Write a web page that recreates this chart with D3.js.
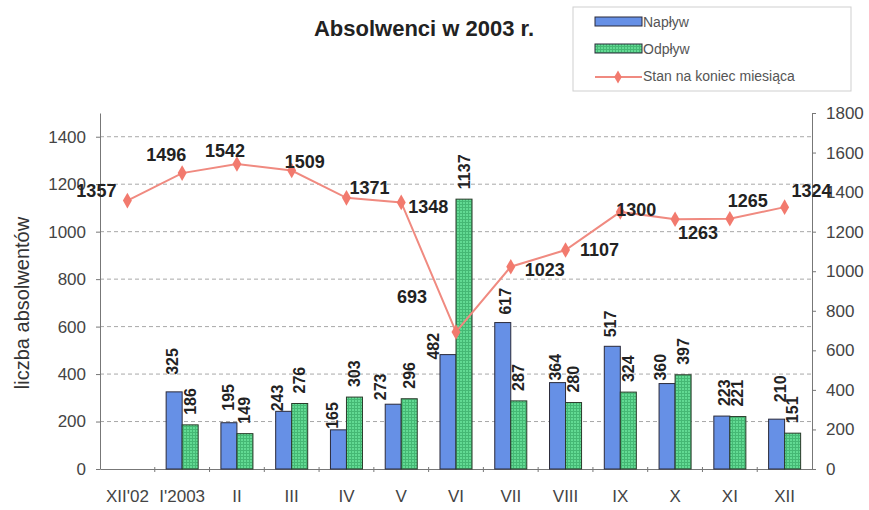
<!DOCTYPE html>
<html>
<head>
<meta charset="utf-8">
<script src="https://cdn.jsdelivr.net/npm/d3@7"></script>
<style>
  body { margin: 0; background: #fff; }
  svg { display: block; font-family: 'Liberation Sans', Arial, sans-serif; }
</style>
</head>
<body>
<script>
// data
const months = ["XII'02", "I'2003", 'II', 'III', 'IV', 'V', 'VI', 'VII', 'VIII', 'IX', 'X', 'XI', 'XII']
const naplyw = [null, 325, 195, 243, 165, 273, 482, 617, 364, 517, 360, 223, 210]
const odplyw = [null, 186, 149, 276, 303, 296, 1137, 287, 280, 324, 397, 221, 151]
const stan = [1357, 1496, 1542, 1509, 1371, 1348, 693, 1023, 1107, 1300, 1263, 1265, 1324]
const leftTicks = [0, 200, 400, 600, 800, 1000, 1200, 1400]
const rightTicks = [0, 200, 400, 600, 800, 1000, 1200, 1400, 1600, 1800]

// label placement (hand positioned in the original)
const stanLabelOffset = [[-31, -10], [-16, -18], [-12, -13], [13, -9], [23, -10], [27, 5], [-44, -35],
  [34, 3], [34, 0], [16, -2], [23, 14], [18, -18], [27, -16]]
const napLabelNudge = [[0, 0], [-2, -7], [0, -2], [-6, 10], [-6, 9], [-13, 6], [-14, 15],
  [3, 2], [-2, 8], [-2, 1], [-7, 7], [3, 0], [4, -7]]

const W = 869, H = 510
const plot = { left: 100, right: 812, top: 113, bottom: 469 }

const svg = d3.select('body').append('svg')
  .attr('width', W)
  .attr('height', H)

const defs = svg.append('defs')
const pat = defs.append('pattern')
  .attr('id', 'greenGrid')
  .attr('width', 3).attr('height', 3)
  .attr('patternUnits', 'userSpaceOnUse')
pat.append('rect').attr('width', 3).attr('height', 3).attr('fill', '#62da93')
pat.append('path').attr('d', 'M0,0.5H3M0.5,0V3').attr('stroke', '#45b874').attr('stroke-width', 1)

const x = d3.scaleBand().domain(months).range([plot.left, plot.right]).padding(0)
const x1 = d3.scaleBand().domain(['nap', 'odp']).range([0, x.bandwidth()])
  .paddingInner(0).paddingOuter(0.71)
const yL = d3.scaleLinear().domain([0, 1500]).range([plot.bottom, plot.top])
const yR = d3.scaleLinear().domain([0, 1800]).range([plot.bottom, plot.top])

// gridlines
svg.append('g').selectAll('line')
  .data(leftTicks.filter(d => d > 0))
  .join('line')
  .attr('x1', plot.left).attr('x2', plot.right)
  .attr('y1', d => yL(d)).attr('y2', d => yL(d))
  .attr('stroke', '#a8a8a8')
  .attr('stroke-dasharray', '4,3')

// axes
const styleAxis = g => {
  g.select('.domain').attr('stroke', '#777')
  g.selectAll('.tick line').attr('stroke', '#777')
  g.selectAll('.tick text').attr('fill', '#444').style('font-size', '17px')
    .style('font-family', "'Liberation Sans', Arial, sans-serif")
}

svg.append('g')
  .attr('transform', `translate(${plot.left},0)`)
  .call(d3.axisLeft(yL).tickValues(leftTicks).tickFormat(d3.format('d'))
    .tickSize(4).tickPadding(10).tickSizeOuter(0))
  .call(styleAxis)

svg.append('g')
  .attr('transform', `translate(${plot.right},0)`)
  .call(d3.axisRight(yR).tickValues(rightTicks).tickFormat(d3.format('d'))
    .tickSize(4).tickPadding(10).tickSizeOuter(0))
  .call(styleAxis)

const xAxis = svg.append('g')
  .attr('transform', `translate(0,${plot.bottom})`)
  .call(d3.axisBottom(x).tickSize(0).tickPadding(21))
  .call(styleAxis)
// small ticks between categories
xAxis.selectAll('.sep')
  .data(months.slice(1))
  .join('line')
  .attr('x1', d => x(d)).attr('x2', d => x(d))
  .attr('y1', -2).attr('y2', 3)
  .attr('stroke', '#777')

// bars
const bars = svg.append('g')
bars.selectAll('.nap')
  .data(months.map((m, i) => ({ m, v: naplyw[i], i })).filter(d => d.v != null))
  .join('rect')
  .attr('x', d => x(d.m) + x1('nap'))
  .attr('y', d => yL(d.v))
  .attr('width', x1.bandwidth())
  .attr('height', d => yL(0) - yL(d.v))
  .attr('fill', '#6690e6')
  .attr('stroke', '#2a2a3a')
  .attr('stroke-width', 1)

bars.selectAll('.odp')
  .data(months.map((m, i) => ({ m, v: odplyw[i], i })).filter(d => d.v != null))
  .join('rect')
  .attr('x', d => x(d.m) + x1('odp'))
  .attr('y', d => yL(d.v))
  .attr('width', x1.bandwidth())
  .attr('height', d => yL(0) - yL(d.v))
  .attr('fill', 'url(#greenGrid)')
  .attr('stroke', '#2a3a2a')
  .attr('stroke-width', 1)

// bar value labels, vertical
const barLabel = (key, values, nudge) => {
  svg.append('g').selectAll('text')
    .data(months.map((m, i) => ({ m, v: values[i], i })).filter(d => d.v != null))
    .join('text')
    .attr('transform', d => {
      const n = nudge ? nudge[d.i] : [0, 0]
      const cx = x(d.m) + x1(key) + x1.bandwidth() / 2 + n[0]
      const cy = yL(d.v) - 10 + n[1]
      return `translate(${cx},${cy}) rotate(-90)`
    })
    .attr('dominant-baseline', 'central')
    .attr('text-anchor', 'start')
    .style('font-size', '16px')
    .style('font-weight', 'bold')
    .attr('fill', '#222')
    .text(d => d.v)
}
barLabel('nap', naplyw, napLabelNudge)
barLabel('odp', odplyw, null)

// line
const cx = (d, i) => x(months[i]) + x.bandwidth() / 2
const line = d3.line().x(cx).y(d => yR(d))
svg.append('path')
  .datum(stan)
  .attr('d', line)
  .attr('fill', 'none')
  .attr('stroke', '#f08a80')
  .attr('stroke-width', 2)

svg.append('g').selectAll('path')
  .data(stan)
  .join('path')
  .attr('transform', (d, i) => `translate(${cx(d, i)},${yR(d)})`)
  .attr('d', d3.symbol(d3.symbolDiamond, 70))
  .attr('fill', '#f27a6e')

svg.append('g').selectAll('text')
  .data(stan)
  .join('text')
  .attr('x', (d, i) => cx(d, i) + stanLabelOffset[i][0])
  .attr('y', (d, i) => yR(d) + stanLabelOffset[i][1])
  .attr('text-anchor', 'middle')
  .attr('dominant-baseline', 'central')
  .style('font-size', '18px')
  .style('font-weight', 'bold')
  .attr('fill', '#222')
  .text(d => d)

// y title
svg.append('text')
  .attr('transform', `translate(22,${(plot.top + plot.bottom) / 2 + 12}) rotate(-90)`)
  .attr('text-anchor', 'middle')
  .attr('dominant-baseline', 'central')
  .style('font-size', '20px')
  .attr('fill', '#333')
  .text('liczba absolwentów')

// title
svg.append('text')
  .attr('x', 424).attr('y', 28)
  .attr('text-anchor', 'middle')
  .attr('dominant-baseline', 'central')
  .style('font-size', '22px')
  .style('font-weight', 'bold')
  .attr('fill', '#222')
  .text('Absolwenci w 2003 r.')

// legend
const legend = svg.append('g').attr('transform', 'translate(573,7)')
legend.append('rect')
  .attr('width', 278).attr('height', 84)
  .attr('fill', '#fff')
  .attr('stroke', '#cfcfcf')
const items = [
  { name: 'Napływ', type: 'bar', fill: '#6690e6' },
  { name: 'Odpływ', type: 'bar', fill: 'url(#greenGrid)' },
  { name: 'Stan na koniec miesiąca', type: 'line' }
]
items.forEach((it, i) => {
  const yy = 14 + i * 27
  if (it.type === 'bar') {
    legend.append('rect')
      .attr('x', 22).attr('y', yy - 4)
      .attr('width', 47).attr('height', 9)
      .attr('fill', it.fill)
      .attr('stroke', '#2a2a3a')
  } else {
    legend.append('line')
      .attr('x1', 22).attr('x2', 69)
      .attr('y1', yy + 2).attr('y2', yy + 2)
      .attr('stroke', '#f08a80').attr('stroke-width', 2)
    legend.append('path')
      .attr('transform', `translate(45,${yy + 2})`)
      .attr('d', d3.symbol(d3.symbolDiamond, 50))
      .attr('fill', '#f27a6e')
  }
  legend.append('text')
    .attr('x', 70).attr('y', yy + 1)
    .attr('dominant-baseline', 'central')
    .style('font-size', '14px')
    .attr('fill', '#555')
    .text(it.name)
})
</script>
</body>
</html>
